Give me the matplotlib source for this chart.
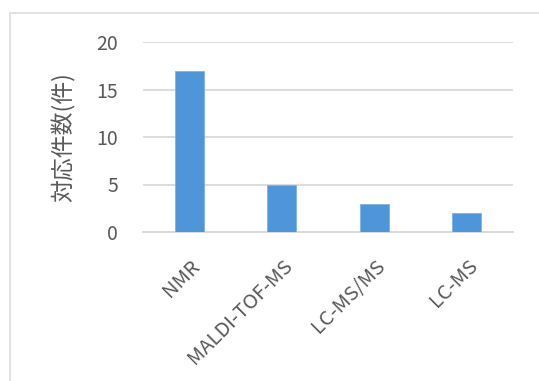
import matplotlib
matplotlib.use('Agg')
import matplotlib.pyplot as plt
import matplotlib.patches as mpatches

plt.rcParams['font.family'] = ['Noto Sans CJK JP', 'DejaVu Sans']

# data
categories = ['NMR', 'MALDI-TOF-MS', 'LC-MS/MS', 'LC-MS']
counts = [17, 5, 3, 2]
yticks = [0, 5, 10, 15, 20]
ylabel = '対応件数(件)'

W, H = 539, 381
fig = plt.figure(figsize=(W / 100, H / 100), dpi=100)
fig.patch.set_facecolor('white')

# chart area border (runs off the right and bottom edges)
fig.patches.append(mpatches.Rectangle((10 / W, -0.1), 1.2, 1.1 - 13 / H,
                                      transform=fig.transFigure, fill=False,
                                      edgecolor='#dcdcdc', lw=1.2))

ax = fig.add_axes([143 / W, (H - 232) / H, 370 / W, 190 / H])
x = range(len(categories))
ax.bar(x, counts, width=0.31, color='#4e95d9', edgecolor='#7fb2e5', lw=0.6, zorder=3)

ax.set_xlim(-0.5, len(categories) - 0.5)
ax.set_ylim(0, 20)
ax.set_yticks(yticks)
ax.yaxis.grid(True, color='#d9d9d9', lw=1.3)
ax.set_axisbelow(True)
for s in ['top', 'right', 'left']:
    ax.spines[s].set_visible(False)
ax.spines['bottom'].set_color('#d9d9d9')
ax.spines['bottom'].set_linewidth(1.3)
ax.tick_params(axis='both', length=0, labelsize=14, colors='#595959')
ax.tick_params(axis='y', pad=18)

ax.set_xticks(list(x))
ax.set_xticklabels(categories, rotation=45, ha='right', rotation_mode='anchor',
                   fontsize=14.5)
ax.tick_params(axis='x', pad=17)

ax.set_ylabel(ylabel, fontsize=16.5, color='#595959', labelpad=15)

fig.savefig('out.png', dpi=100, facecolor='white')
